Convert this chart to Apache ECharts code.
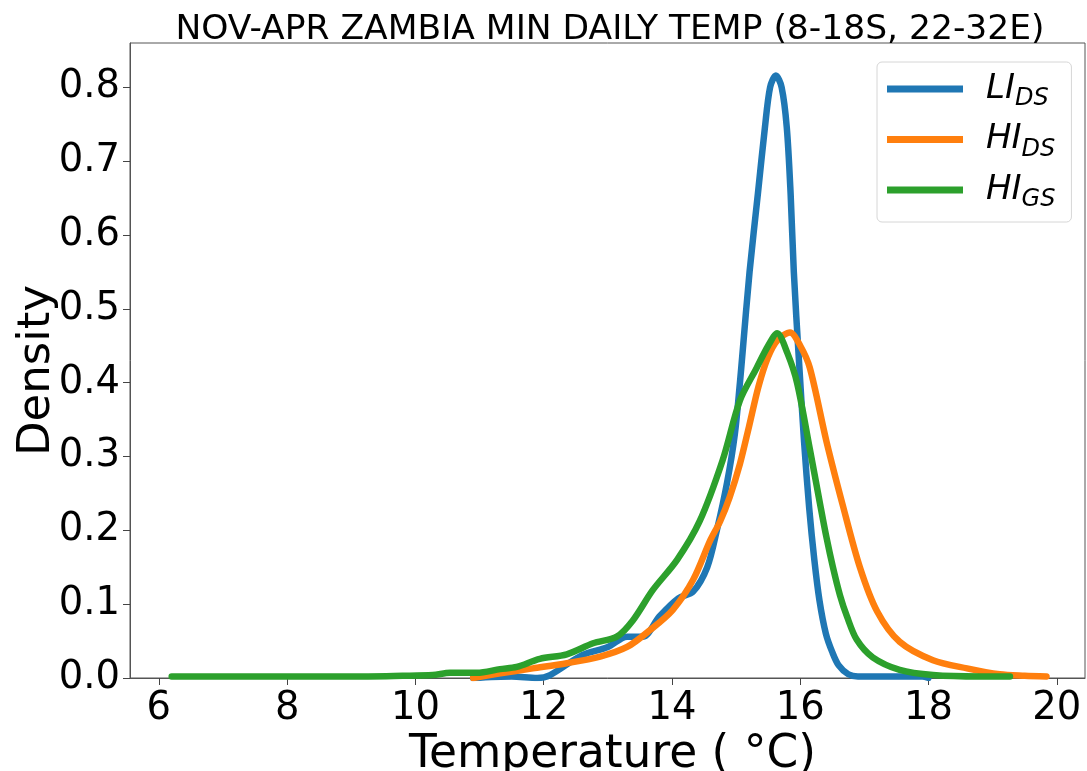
<!DOCTYPE html>
<html>
<head>
<meta charset="utf-8">
<script src="https://cdn.jsdelivr.net/npm/echarts@6/dist/echarts.min.js"></script>
<style>
  html, body { margin: 0; padding: 0; background: #fff; }
  #chart { width: 1087px; height: 771px; }
</style>
</head>
<body>
<div id="chart"></div>
<script>
// Kernel density estimates of Nov-Apr daily minimum temperature (°C)
const liDsTemp    = [10.9, 11.5, 11.9, 12.1, 12.6, 13.0, 13.3, 13.55, 13.8, 14.1, 14.33, 14.55, 14.7, 14.86, 14.98, 15.06, 15.1, 15.21, 15.34, 15.45, 15.53, 15.62, 15.71, 15.79, 15.85, 15.9, 15.98, 16.06, 16.14, 16.22, 16.3, 16.4, 16.5, 16.6, 16.75, 16.9, 17.9, 18.0];
const liDsDensity = [0.0, 0.002, 0.0, 0.004, 0.031, 0.042, 0.056, 0.056, 0.083, 0.108, 0.117, 0.15, 0.2, 0.265, 0.33, 0.40, 0.44, 0.55, 0.656, 0.746, 0.80, 0.816, 0.80, 0.746, 0.656, 0.55, 0.43, 0.32, 0.23, 0.16, 0.105, 0.06, 0.035, 0.017, 0.005, 0.002, 0.002, 0.0];

const hiDsTemp    = [10.9, 11.3, 11.83, 12.36, 12.88, 13.3, 13.66, 14.01, 14.33, 14.6, 14.75, 14.9, 15.06, 15.2, 15.35, 15.5, 15.65, 15.84, 16.0, 16.15, 16.41, 16.66, 16.93, 17.2, 17.55, 18.07, 18.6, 19.11, 19.5, 19.84];
const hiDsDensity = [0.0, 0.006, 0.013, 0.02, 0.029, 0.042, 0.065, 0.092, 0.133, 0.187, 0.212, 0.245, 0.29, 0.34, 0.395, 0.435, 0.458, 0.468, 0.45, 0.42, 0.32, 0.235, 0.15, 0.09, 0.049, 0.024, 0.013, 0.005, 0.003, 0.002];

const hiGsTemp    = [6.2, 7.0, 8.0, 9.0, 9.8, 10.27, 10.54, 10.96, 11.32, 11.58, 11.94, 12.36, 12.77, 13.14, 13.39, 13.7, 14.08, 14.43, 14.79, 15.06, 15.32, 15.5, 15.64, 15.8, 15.95, 16.15, 16.3, 16.41, 16.51, 16.62, 16.73, 16.88, 17.13, 17.55, 18.07, 18.8, 19.27];
const hiGsDensity = [0.002, 0.002, 0.002, 0.002, 0.003, 0.004, 0.007, 0.007, 0.012, 0.015, 0.026, 0.032, 0.047, 0.056, 0.078, 0.119, 0.16, 0.212, 0.295, 0.376, 0.42, 0.45, 0.467, 0.44, 0.40, 0.31, 0.24, 0.19, 0.15, 0.112, 0.083, 0.052, 0.028, 0.011, 0.004, 0.002, 0.002];

const seriesNames  = ['LI_DS', 'HI_DS', 'HI_GS'];
const seriesColors = ['#1f77b4', '#ff7f0e', '#2ca02c'];
const xTicks = [6, 8, 10, 12, 14, 16, 18, 20];
const yTicks = [0, 0.1, 0.2, 0.3, 0.4, 0.5, 0.6, 0.7, 0.8];

const pairs = (xs, ys) => xs.map((x, i) => [x, ys[i]]);
const curves = [pairs(liDsTemp, liDsDensity), pairs(hiDsTemp, hiDsDensity), pairs(hiGsTemp, hiGsDensity)];

const FONT = 'DejaVu Sans';
const chart = echarts.init(document.getElementById('chart'), null, { renderer: 'canvas' });

chart.setOption({
  animation: false,
  backgroundColor: '#fff',
  textStyle: { fontFamily: FONT },
  title: {
    text: 'NOV-APR ZAMBIA MIN DAILY TEMP (8-18S, 22-32E)',
    left: 605, top: 8, textAlign: 'center',
    textStyle: { fontFamily: FONT, fontSize: 34.5, fontWeight: 'normal', color: '#000' }
  },
  grid: {
    left: 130, right: 2, top: 43, bottom: 93,
    outerBoundsMode: 'none',
    containLabel: false,
    show: true, borderColor: '#555', borderWidth: 1, backgroundColor: 'transparent'
  },
  legend: {
    orient: 'vertical',
    left: 877, top: 62,
    padding: [5, 16, 10, 10],
    itemGap: 6.5,
    itemWidth: 76, itemHeight: 7,
    icon: 'rect',
    backgroundColor: 'rgba(255,255,255,0.8)',
    borderColor: '#d6d6d6', borderWidth: 1, borderRadius: 5,
    data: seriesNames,
    formatter: (name) => {
      const [main, sub] = name.split('_');
      return '{m|' + main + '}{s|' + sub + '}';
    },
    textStyle: {
      fontFamily: FONT,
      padding: [0, 0, 0, 18],
      rich: {
        m: { fontFamily: FONT, fontStyle: 'italic', fontSize: 34, color: '#000', lineHeight: 40 },
        s: { fontFamily: FONT, fontStyle: 'italic', fontSize: 24, color: '#000', lineHeight: 40, padding: [20, 0, 0, 0] }
      }
    }
  },
  xAxis: {
    type: 'value',
    min: 5.55, max: 20.44,
    name: 'Temperature ( °C)',
    nameLocation: 'middle', nameGap: 54,
    nameMoveOverlap: false,
    nameTextStyle: { fontFamily: FONT, fontSize: 45.5, color: '#000', verticalAlign: 'top', padding: [0, 0, 0, 10] },
    axisLine: { show: true, onZero: false, lineStyle: { color: '#555', width: 1 } },
    axisTick: { show: true, inside: false, length: 7, customValues: xTicks, lineStyle: { color: '#444', width: 1 } },
    axisLabel: { customValues: xTicks, margin: 11, fontFamily: FONT, fontSize: 38.5, color: '#000',
      formatter: (v) => String(v) },
    splitLine: { show: false }
  },
  yAxis: {
    type: 'value',
    min: 0, max: 0.86,
    name: 'Density',
    nameLocation: 'middle', nameGap: 70,
    nameMoveOverlap: false,
    nameTextStyle: { fontFamily: FONT, fontSize: 45, color: '#000', padding: [0, 20, 0, 0] },
    axisLine: { show: true, lineStyle: { color: '#555', width: 1 } },
    axisTick: { show: true, inside: false, length: 7, customValues: yTicks, lineStyle: { color: '#444', width: 1 } },
    axisLabel: { customValues: yTicks, margin: 10, fontFamily: FONT, fontSize: 38.5, color: '#000',
      formatter: (v) => v.toFixed(1) },
    splitLine: { show: false }
  },
  series: curves.map((data, i) => ({
    name: seriesNames[i],
    type: 'line',
    data: data,
    showSymbol: false,
    smooth: 0.3,
    clip: true,
    color: seriesColors[i],
    lineStyle: { width: 6.5, color: seriesColors[i], cap: 'round', join: 'round' }
  }))
});
</script>
</body>
</html>
